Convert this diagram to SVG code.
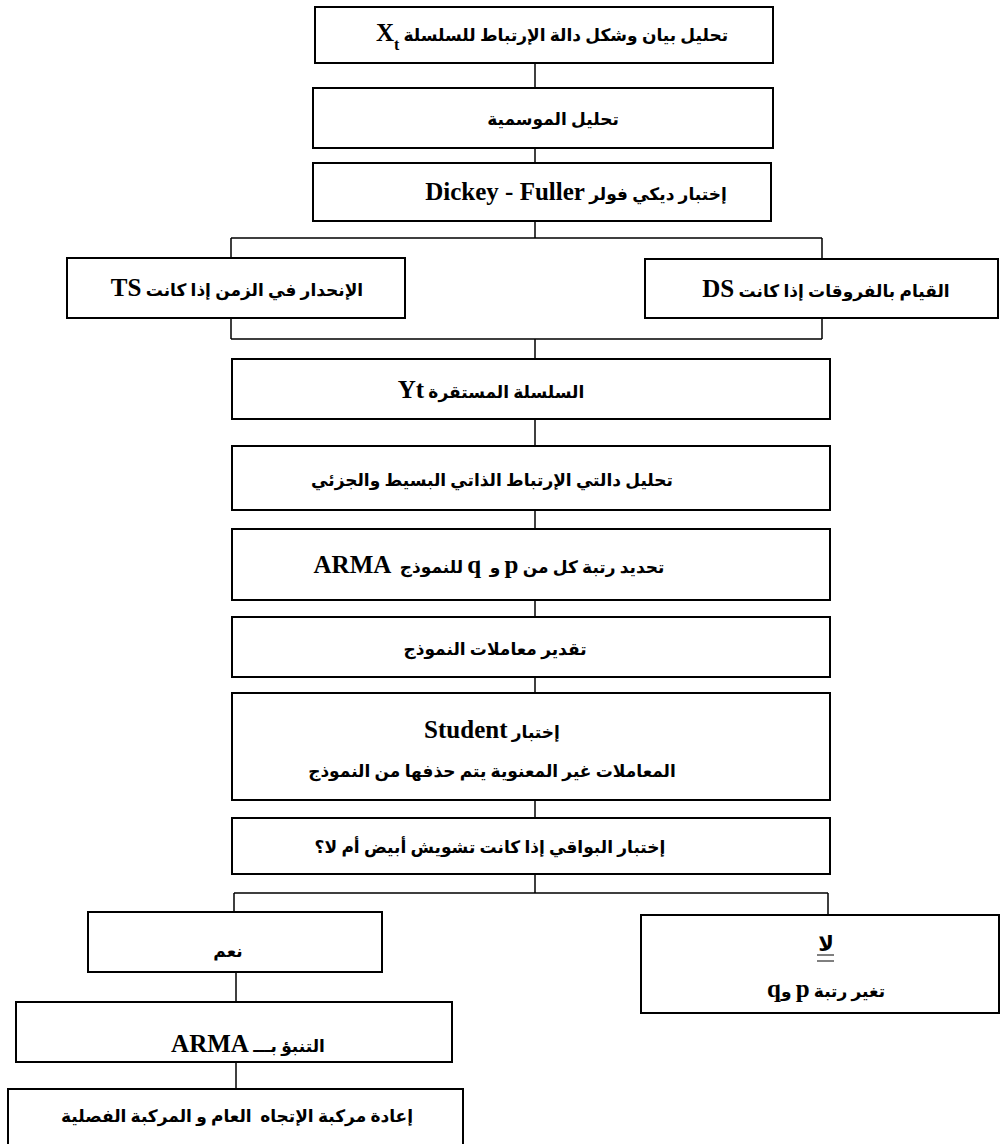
<svg xmlns="http://www.w3.org/2000/svg" width="1001" height="1144" viewBox="0 0 1001 1144">
  <style>
    .box { fill: #ffffff; stroke: #000000; stroke-width: 2; }
    .wire { fill: none; stroke: #000000; stroke-width: 1.5; }
    .ar { font-family: "Liberation Serif", "DejaVu Sans", serif; font-weight: bold; font-size: 17px; fill: #000000; text-anchor: middle; direction: rtl; white-space: pre; }
    .lat { font-family: "Liberation Serif", serif; font-weight: bold; font-size: 25px; }
    .sub { font-size: 16px; }
    .big { font-size: 21px; }
    .uline { stroke: #000000; stroke-width: 1; }
  </style>

  <rect width="1001" height="1144" fill="#ffffff"/>

  <!-- connectors -->
  <g id="connectors">
    <path class="wire" d="M535 63 V88"/>
    <path class="wire" d="M535 148 V163"/>
    <path class="wire" d="M535 221 V238 M231 238 H822 M231 238 V258 M822 238 V259"/>
    <path class="wire" d="M231 318 V339 M822 318 V339 M231 339 H822 M535 339 V359"/>
    <path class="wire" d="M535 419 V446"/>
    <path class="wire" d="M535 510 V529"/>
    <path class="wire" d="M535 600 V617"/>
    <path class="wire" d="M535 677 V693"/>
    <path class="wire" d="M535 800 V818"/>
    <path class="wire" d="M535 874 V893 M234 893 H828 M234 893 V912 M828 893 V915"/>
    <path class="wire" d="M236 972 V1002"/>
    <path class="wire" d="M236 1062 V1089"/>
  </g>

  <!-- nodes -->
  <g id="n-xt">
    <rect class="box" x="315" y="7" width="458" height="56"/>
    <text class="ar" x="552" y="41">تحليل بيان وشكل دالة الإرتباط للسلسلة <tspan class="lat">X<tspan class="sub" baseline-shift="sub">t</tspan></tspan></text>
  </g>

  <g id="n-season">
    <rect class="box" x="313" y="88" width="460" height="60"/>
    <text class="ar" x="553" y="125">تحليل الموسمية</text>
  </g>

  <g id="n-df">
    <rect class="box" x="313" y="163" width="458" height="58"/>
    <text class="ar" x="576" y="200">إختبار ديكي فولر <tspan class="lat">Dickey - Fuller</tspan></text>
  </g>

  <g id="n-ts">
    <rect class="box" x="67" y="258" width="338" height="60"/>
    <text class="ar" x="237" y="296">الإنحدار في الزمن إذا كانت <tspan class="lat">TS</tspan></text>
  </g>

  <g id="n-ds">
    <rect class="box" x="645" y="259" width="353" height="59"/>
    <text class="ar" x="826" y="297">القيام بالفروقات إذا كانت <tspan class="lat">DS</tspan></text>
  </g>

  <g id="n-yt">
    <rect class="box" x="232" y="359" width="598" height="60"/>
    <text class="ar" x="491" y="398">السلسلة المستقرة <tspan class="lat">Yt</tspan></text>
  </g>

  <g id="n-acf">
    <rect class="box" x="232" y="446" width="598" height="64"/>
    <text class="ar" x="492" y="486">تحليل دالتي الإرتباط الذاتي البسيط والجزئي</text>
  </g>

  <g id="n-order">
    <rect class="box" x="232" y="529" width="598" height="71"/>
    <text class="ar" x="489" y="573">تحديد رتبة كل من <tspan class="lat">p</tspan> و  <tspan class="lat">q</tspan> للنموذج  <tspan class="lat">ARMA</tspan></text>
  </g>

  <g id="n-estimate">
    <rect class="box" x="232" y="617" width="598" height="60"/>
    <text class="ar" x="495" y="655">تقدير معاملات النموذج</text>
  </g>

  <g id="n-student">
    <rect class="box" x="232" y="693" width="598" height="107"/>
    <text class="ar" x="492" y="738">إختبار <tspan class="lat">Student</tspan></text>
    <text class="ar" x="492" y="777">المعاملات غير المعنوية يتم حذفها من النموذج</text>
  </g>

  <g id="n-residuals">
    <rect class="box" x="232" y="818" width="598" height="56"/>
    <text class="ar" x="490" y="853">إختبار البواقي إذا كانت تشويش أبيض أم لا؟</text>
  </g>

  <g id="n-yes">
    <rect class="box" x="88" y="912" width="294" height="60"/>
    <text class="ar" x="228" y="957">نعم</text>
  </g>

  <g id="n-no">
    <rect class="box" x="641" y="915" width="358" height="98"/>
    <text class="ar big" x="826" y="951">لا</text>
    <line class="uline" x1="817" y1="955" x2="834" y2="955"/>
    <line class="uline" x1="817" y1="961" x2="834" y2="961"/>
    <text class="ar" x="826" y="997">تغير رتبة <tspan class="lat">p</tspan> و<tspan class="lat">q</tspan></text>
  </g>

  <g id="n-forecast">
    <rect class="box" x="16" y="1002" width="436" height="60"/>
    <text class="ar" x="248" y="1052">التنبؤ بـــ <tspan class="lat">ARMA</tspan></text>
  </g>

  <g id="n-recompose">
    <rect class="box" x="8" y="1089" width="455" height="70"/>
    <text class="ar" x="237" y="1122">إعادة مركبة الإتجاه  العام و المركبة الفصلية</text>
  </g>
</svg>
